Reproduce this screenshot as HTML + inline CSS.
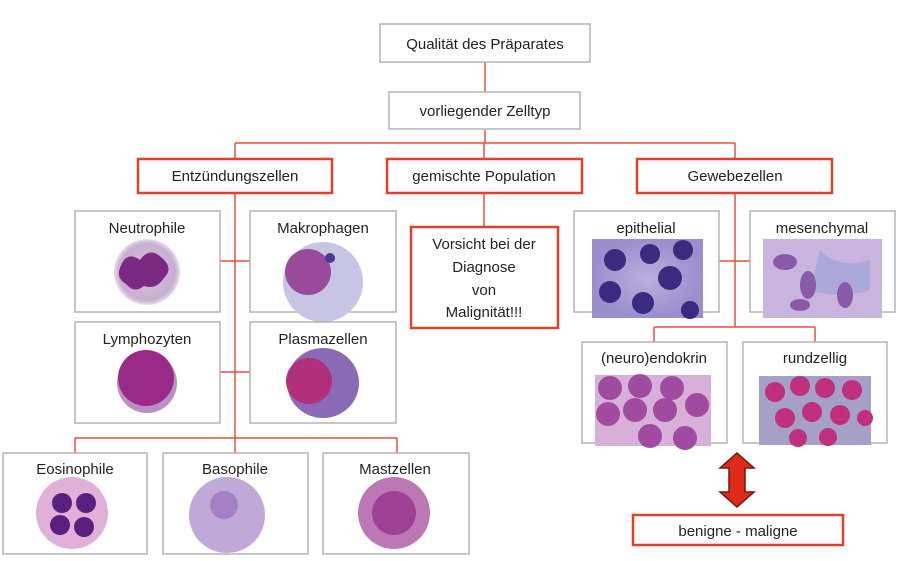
<!DOCTYPE html>
<html><head><meta charset="utf-8"><style>
html,body{margin:0;padding:0;background:#fff}
svg{display:block}
text{font-family:"Liberation Sans",sans-serif;fill:#222;font-size:15px;text-anchor:middle}
.g{fill:#fff;stroke:#b4b4b4;stroke-width:1.5}
.r{fill:#fff;stroke:#e0402c;stroke-width:2.5}
.l{stroke:#e5523e;stroke-width:1.5;fill:none}
</style></head><body>
<svg width="900" height="561" viewBox="0 0 900 561">
<defs>
<radialGradient id="cyto" cx="50%" cy="50%" r="50%"><stop offset="0" stop-color="#d8c4dc"/><stop offset="0.85" stop-color="#c8aed0"/><stop offset="1" stop-color="#e8dcea"/></radialGradient>
<radialGradient id="blue" cx="50%" cy="50%" r="50%"><stop offset="0" stop-color="#b8b0dc"/><stop offset="1" stop-color="#9a8ecc"/></radialGradient>
</defs>
<path class="l" d="M485 62V92 M485 130V143 M235 143H735 M235 143V159 M484 143V159 M735 143V159"/>
<path class="l" d="M235 193V453 M220 261H250 M220 372H250 M75 438H397 M75 438V453 M397 438V453"/>
<path class="l" d="M484 193V227 M735 193V327 M719 261H750 M654 327H815 M654 327V342 M815 327V342"/>
<rect class="g" x="380" y="24" width="210" height="38"/><text x="485" y="49">Qualität des Präparates</text>
<rect class="g" x="389" y="92" width="191" height="37"/><text x="485" y="116">vorliegender Zelltyp</text>
<rect class="r" x="138" y="159" width="194" height="34"/><text x="235" y="181">Entzündungszellen</text>
<rect class="r" x="387" y="159" width="195" height="34"/><text x="484" y="181">gemischte Population</text>
<rect class="r" x="637" y="159" width="195" height="34"/><text x="735" y="181">Gewebezellen</text>
<rect class="r" x="411" y="227" width="147" height="101"/>
<text x="484" y="249">Vorsicht bei der</text><text x="484" y="272">Diagnose</text><text x="484" y="295">von</text><text x="484" y="317">Malignität!!!</text>
<rect class="g" x="75" y="211" width="145" height="101"/><text x="147" y="233">Neutrophile</text>
<circle cx="147" cy="272" r="33" fill="url(#cyto)"/><path d="M120 268q6-18 20-8q10-14 22-2q12 10 2 20q-8 12-20 8q-10 8-18-2q-10-6-6-16z" fill="#7a2a82"/>
<rect class="g" x="250" y="211" width="146" height="101"/><text x="323" y="233">Makrophagen</text>
<circle cx="323" cy="282" r="40" fill="#c8c4e4"/><circle cx="308" cy="272" r="23" fill="#9a4a9a"/><circle cx="330" cy="258" r="5" fill="#4a3a90"/>
<rect class="g" x="75" y="322" width="145" height="101"/><text x="147" y="344">Lymphozyten</text>
<circle cx="147" cy="383" r="30" fill="#b890c4"/><circle cx="146" cy="378" r="28" fill="#9a2a88"/>
<rect class="g" x="250" y="322" width="146" height="101"/><text x="323" y="344">Plasmazellen</text>
<ellipse cx="323" cy="383" rx="36" ry="35" fill="#8a6ab4"/><circle cx="309" cy="381" r="23" fill="#b0307c"/>
<rect class="g" x="3" y="453" width="144" height="101"/><text x="75" y="474">Eosinophile</text>
<circle cx="72" cy="513" r="36" fill="#e0b0d8"/><circle cx="62" cy="503" r="10" fill="#5a2080"/><circle cx="86" cy="503" r="10" fill="#5a2080"/><circle cx="60" cy="525" r="10" fill="#5a2080"/><circle cx="84" cy="527" r="10" fill="#5a2080"/>
<rect class="g" x="163" y="453" width="145" height="101"/><text x="235" y="474">Basophile</text>
<circle cx="227" cy="515" r="38" fill="#c0a8d8"/><circle cx="224" cy="505" r="14" fill="#a680c4"/>
<rect class="g" x="323" y="453" width="146" height="101"/><text x="395" y="474">Mastzellen</text>
<circle cx="394" cy="513" r="36" fill="#b060a8" opacity="0.85"/><circle cx="394" cy="513" r="22" fill="#902a88" opacity="0.7"/>
<rect class="g" x="574" y="211" width="145" height="101"/><text x="646" y="233">epithelial</text>
<rect x="592" y="239" width="111" height="79" fill="url(#blue)"/>
<g fill="#3a2a80"><circle cx="615" cy="260" r="11"/><circle cx="650" cy="254" r="10"/><circle cx="683" cy="250" r="10"/><circle cx="670" cy="278" r="12"/><circle cx="610" cy="292" r="11"/><circle cx="643" cy="303" r="11"/><circle cx="690" cy="310" r="9"/></g>
<rect class="g" x="750" y="211" width="145" height="101"/><text x="822" y="233">mesenchymal</text>
<rect x="763" y="239" width="119" height="79" fill="#c8b4dc"/>
<path d="M820 250q20 20 50 10v30q-30 10-60 0z" fill="#9aa0d8" opacity="0.6"/>
<g fill="#8a5aaa"><ellipse cx="785" cy="262" rx="12" ry="8"/><ellipse cx="808" cy="285" rx="8" ry="14"/><ellipse cx="845" cy="295" rx="8" ry="13"/><ellipse cx="800" cy="305" rx="10" ry="6"/></g>
<rect class="g" x="582" y="342" width="145" height="101"/><text x="654" y="363">(neuro)endokrin</text>
<rect x="595" y="375" width="116" height="71" fill="#d6b0d8"/>
<g fill="#a04aa0"><circle cx="610" cy="388" r="12"/><circle cx="640" cy="386" r="12"/><circle cx="672" cy="388" r="12"/><circle cx="608" cy="414" r="12"/><circle cx="635" cy="410" r="12"/><circle cx="665" cy="410" r="12"/><circle cx="697" cy="405" r="12"/><circle cx="650" cy="436" r="12"/><circle cx="685" cy="438" r="12"/></g>
<rect class="g" x="743" y="342" width="144" height="101"/><text x="815" y="363">rundzellig</text>
<rect x="759" y="376" width="112" height="69" fill="#a4a0c8"/>
<g fill="#c0307c"><circle cx="775" cy="392" r="10"/><circle cx="800" cy="386" r="10"/><circle cx="825" cy="388" r="10"/><circle cx="852" cy="390" r="10"/><circle cx="785" cy="418" r="10"/><circle cx="812" cy="412" r="10"/><circle cx="840" cy="415" r="10"/><circle cx="865" cy="418" r="8"/><circle cx="798" cy="438" r="9"/><circle cx="828" cy="437" r="9"/></g>
<path d="M737 453L754 468H745V492H754L737 507L720 492H729V468H720Z" fill="#e02a1c" stroke="#6a1a10" stroke-width="1.5"/>
<rect class="r" x="633" y="515" width="210" height="30" stroke-width="2"/><text x="738" y="536" font-size="14">benigne - maligne</text>
</svg>
</body></html>
